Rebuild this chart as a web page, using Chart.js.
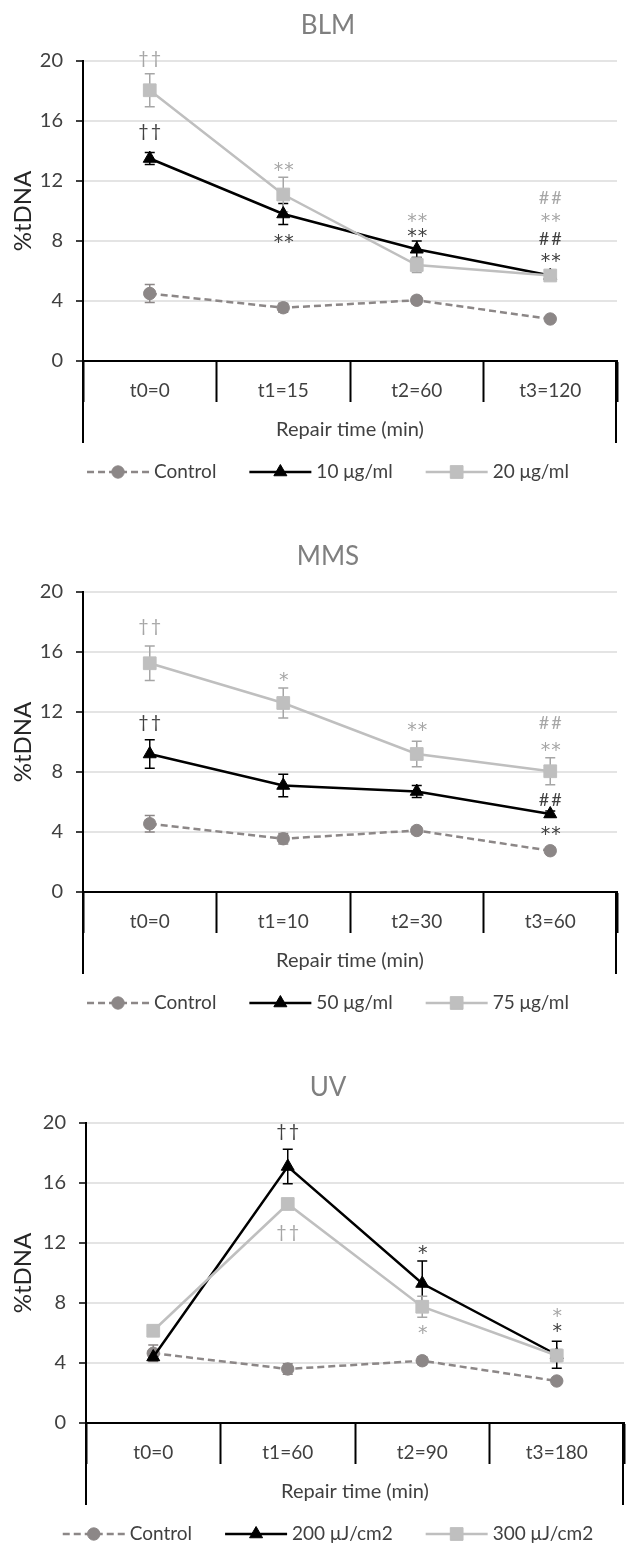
<!DOCTYPE html>
<html>
<head>
<meta charset="utf-8">
<title>%tDNA repair kinetics</title>
<script src="https://cdn.jsdelivr.net/npm/chart.js@4.4.1/dist/chart.umd.min.js"></script>
<style>
  html, body { margin: 0; padding: 0; background: #fff; }
  body { position: relative; width: 627px; height: 1544px; overflow: hidden; }
  .panel { position: absolute; left: 0; width: 627px; overflow: hidden; }
  .panel canvas { display: block; }
</style>
</head>
<body>
<div class="panel" style="top: 0; height: 531px"><canvas id="blm" width="627" height="531"></canvas></div>
<div class="panel" style="top: 531px; height: 531px"><canvas id="mms" width="627" height="531"></canvas></div>
<div class="panel" style="top: 1062px; height: 482px"><canvas id="uv" width="634" height="482"></canvas></div>
<script>
// values (mean, +/- error bar half-length)
const blmLabels = ["t0=0", "t1=15", "t2=60", "t3=120"];
const blmControl = [4.5, 3.55, 4.05, 2.8];
const blmControlErr = [0.6, 0.3, 0.25, 0.15];
const blmLow = [13.5, 9.8, 7.45, 5.7];
const blmLowErr = [0.4, 0.7, 0.55, 0.15];
const blmHigh = [18.05, 11.1, 6.4, 5.7];
const blmHighErr = [1.1, 1.15, 0.5, 0.2];
const blmMarks = [
  [0, 20.15, "††", "light"], [0, 15.3, "††", "dark"],
  [1, 13.0, "**", "light"], [1, 8.2, "**", "dark"],
  [2, 9.6, "**", "light"], [2, 8.55, "**", "dark"],
  [3, 10.9, "##", "light"], [3, 9.55, "**", "light"], [3, 8.2, "##", "dark"], [3, 6.9, "**", "dark"],
];

const mmsLabels = ["t0=0", "t1=10", "t2=30", "t3=60"];
const mmsControl = [4.55, 3.55, 4.1, 2.75];
const mmsControlErr = [0.55, 0.35, 0.25, 0.2];
const mmsLow = [9.2, 7.1, 6.7, 5.2];
const mmsLowErr = [0.95, 0.75, 0.4, 0.2];
const mmsHigh = [15.25, 12.6, 9.2, 8.05];
const mmsHighErr = [1.15, 1.0, 0.85, 0.9];
const mmsMarks = [
  [0, 17.7, "††", "light"], [0, 11.3, "††", "dark"],
  [1, 14.4, "*", "light"],
  [2, 11.05, "**", "light"],
  [3, 11.3, "##", "light"], [3, 9.7, "**", "light"], [3, 6.2, "##", "dark"], [3, 4.1, "**", "dark"],
];

const uvLabels = ["t0=0", "t1=60", "t2=90", "t3=180"];
const uvControl = [4.65, 3.6, 4.15, 2.8];
const uvControlErr = [0.55, 0.35, 0.25, 0.2];
const uvLow = [4.4, 17.1, 9.3, 4.55];
const uvLowErr = [0.2, 1.15, 1.5, 0.9];
const uvHigh = [6.15, 14.6, 7.75, 4.5];
const uvHighErr = [0.2, 0.35, 0.7, 0.4];
const uvMarks = [
  [1, 19.4, "††", "dark"], [1, 12.7, "††", "light"],
  [2, 11.6, "*", "dark"], [2, 6.25, "*", "light"],
  [3, 7.4, "*", "light"], [3, 6.4, "*", "dark"],
];

// look
const FONT = "Lato, 'Open Sans', sans-serif";
const STAR_FONT = "'DejaVu Sans', sans-serif";
const TEXT_COLOR = "#404040";
const MARK_COLORS = { light: "#a6a6a6", dark: "#404040" };
const CONTROL_LOOK = {
  borderColor: "#8c8787", backgroundColor: "#8c8787",
  pointBackgroundColor: "#8c8787", pointBorderColor: "#8c8787",
  borderDash: [7, 4], borderWidth: 2.5, pointStyle: "circle", pointRadius: 6.2,
  errorColor: "#8c8787", order: 2,
};
const LOW_LOOK = {
  borderColor: "#000", backgroundColor: "#000",
  pointBackgroundColor: "#000", pointBorderColor: "#000",
  borderWidth: 2.5, pointStyle: "triangle", pointRadius: 7.5,
  errorColor: "#000", order: 1,
};
const HIGH_LOOK = {
  borderColor: "#bfbfbf", backgroundColor: "#bfbfbf",
  pointBackgroundColor: "#bfbfbf", pointBorderColor: "#bfbfbf",
  borderWidth: 2.5, pointStyle: "rect", pointRadius: 9,
  errorColor: "#a6a6a6", order: 0,
};

const PLOT_TOP = 61;
const PLOT_BOTTOM = 361;
const AXIS_BAND = 82;      // category table + axis title under the plot
const LEGEND_OFFSET = 111; // plot bottom -> legend centre line
const TITLE_OFFSET = 35;   // plot top -> title centre line
const FIG_CENTER = 328;

Chart.defaults.font.family = FONT;
Chart.defaults.color = TEXT_COLOR;

window.panelFactory = {
  series(label, data, errors, look) {
    return { label, data, errors, tension: 0, pointBorderWidth: 1, ...look };
  },

  decor(title, marks) {
    return {
      id: "decor",
      beforeDatasetsDraw(chart) {
        const { ctx } = chart;
        const y = chart.scales.y;
        chart.data.datasets.forEach((ds, i) => {
          const meta = chart.getDatasetMeta(i);
          ctx.save();
          ctx.strokeStyle = ds.errorColor;
          ctx.lineWidth = 1.5;
          ds.errors.forEach((err, j) => {
            const px = meta.data[j].x;
            const top = y.getPixelForValue(ds.data[j] + err);
            const bot = y.getPixelForValue(ds.data[j] - err);
            ctx.beginPath();
            ctx.moveTo(px, top); ctx.lineTo(px, bot);
            ctx.moveTo(px - 5, top); ctx.lineTo(px + 5, top);
            ctx.moveTo(px - 5, bot); ctx.lineTo(px + 5, bot);
            ctx.stroke();
          });
          ctx.restore();
        });
      },

      afterDatasetsDraw(chart) {
        const { ctx } = chart;
        ctx.save();
        ctx.textAlign = "center";
        ctx.textBaseline = "alphabetic";
        marks.forEach(([idx, value, text, tone]) => {
          const star = text.includes("*");
          ctx.font = star ? `19px ${STAR_FONT}` : `18px ${FONT}`;
          ctx.letterSpacing = star ? "1px" : "2px";
          const px = chart.scales.x.getPixelForValue(idx);
          const py = chart.scales.y.getPixelForValue(value);
          const m = ctx.measureText(text);
          ctx.fillStyle = MARK_COLORS[tone];
          ctx.fillText(text, px + 1, py + (m.actualBoundingBoxAscent - m.actualBoundingBoxDescent) / 2);
        });
        ctx.restore();
      },

      afterDraw(chart) {
        const { ctx } = chart;
        const { left, right, top, bottom } = chart.chartArea;
        ctx.save();

        // outer frame of the category table
        ctx.strokeStyle = "#000";
        ctx.lineWidth = 2;
        ctx.beginPath();
        ctx.moveTo(left, bottom); ctx.lineTo(left, bottom + AXIS_BAND);
        ctx.moveTo(right - 1, bottom); ctx.lineTo(right - 1, bottom + AXIS_BAND);
        ctx.stroke();

        // title
        ctx.font = `26px ${FONT}`;
        ctx.fillStyle = "#7f7f7f";
        ctx.textAlign = "center";
        ctx.textBaseline = "middle";
        ctx.fillText(title, FIG_CENTER, top - TITLE_OFFSET);

        // legend: line segment with marker, then label
        const LINE_LEN = 62, TEXT_GAP = 5, ITEM_GAP = 33;
        ctx.font = `19px ${FONT}`;
        const items = chart.data.datasets.map((ds) => ({ ds, w: ctx.measureText(ds.label).width }));
        const total = items.reduce((s, it) => s + LINE_LEN + TEXT_GAP + it.w, 0) + ITEM_GAP * (items.length - 1);
        let x = FIG_CENTER - total / 2;
        const ly = bottom + LEGEND_OFFSET;
        items.forEach(({ ds, w }) => {
          ctx.strokeStyle = ds.borderColor;
          ctx.lineWidth = ds.borderWidth;
          ctx.setLineDash(ds.borderDash || []);
          ctx.beginPath();
          ctx.moveTo(x, ly); ctx.lineTo(x + LINE_LEN, ly);
          ctx.stroke();
          ctx.setLineDash([]);
          ctx.fillStyle = ds.pointBackgroundColor;
          ctx.strokeStyle = ds.pointBorderColor;
          ctx.lineWidth = 1;
          Chart.helpers.drawPoint(ctx, { pointStyle: ds.pointStyle, radius: ds.pointRadius, rotation: 0, borderWidth: 1 }, x + LINE_LEN / 2, ly);
          ctx.fillStyle = TEXT_COLOR;
          ctx.textAlign = "left";
          ctx.fillText(ds.label, x + LINE_LEN + TEXT_GAP, ly);
          x += LINE_LEN + TEXT_GAP + w + ITEM_GAP;
        });
        ctx.restore();
      },
    };
  },

  lineChart(canvasId, cfg) {
    const canvas = document.getElementById(canvasId);
    const datasets = [
      this.series("Control", cfg.control, cfg.controlErr, CONTROL_LOOK),
      this.series(cfg.doses[0], cfg.low, cfg.lowErr, LOW_LOOK),
      this.series(cfg.doses[1], cfg.high, cfg.highErr, HIGH_LOOK),
    ];
    return new Chart(canvas, {
      type: "line",
      data: { labels: cfg.labels, datasets },
      options: {
        responsive: false,
        animation: false,
        events: [],
        layout: { padding: { top: PLOT_TOP, left: 0, right: 0, bottom: canvas.height - PLOT_BOTTOM - AXIS_BAND } },
        plugins: { legend: { display: false }, tooltip: { enabled: false }, title: { display: false } },
        scales: {
          x: {
            type: "category",
            offset: true,
            grid: { display: true, drawOnChartArea: false, drawTicks: true, tickLength: 41, tickColor: "#000", tickWidth: 2, offset: true },
            border: { display: true, color: "#000", width: 2 },
            ticks: { padding: -23, color: TEXT_COLOR, font: { size: 19 }, maxRotation: 0, autoSkip: false },
            title: { display: true, text: "Repair time (min)", color: TEXT_COLOR, font: { size: 20 }, padding: { top: 0, bottom: 1 } },
            afterFit(scale) { scale.height = AXIS_BAND; },
          },
          y: {
            min: 0,
            max: 20,
            ticks: { stepSize: 4, padding: 13, color: TEXT_COLOR, font: { size: 20 } },
            grid: { color: "#e4e4e4", lineWidth: 2, tickLength: 7, tickColor: "#000", tickWidth: 1.5 },
            border: { color: "#000", width: 2 },
            title: { display: true, text: "%tDNA", color: "#262626", font: { size: 24 }, padding: { top: 9, bottom: 0 } },
            afterFit(scale) { scale.width = cfg.axisLeft; },
          },
        },
      },
      plugins: [this.decor(cfg.title, cfg.marks)],
    });
  },
};

panelFactory.lineChart("blm", {
  title: "BLM", labels: blmLabels, doses: ["10 μg/ml", "20 μg/ml"], axisLeft: 83,
  control: blmControl, controlErr: blmControlErr, low: blmLow, lowErr: blmLowErr,
  high: blmHigh, highErr: blmHighErr, marks: blmMarks,
});
panelFactory.lineChart("mms", {
  title: "MMS", labels: mmsLabels, doses: ["50 μg/ml", "75 μg/ml"], axisLeft: 83,
  control: mmsControl, controlErr: mmsControlErr, low: mmsLow, lowErr: mmsLowErr,
  high: mmsHigh, highErr: mmsHighErr, marks: mmsMarks,
});
panelFactory.lineChart("uv", {
  title: "UV", labels: uvLabels, doses: ["200 μJ/cm2", "300 μJ/cm2"], axisLeft: 86,
  control: uvControl, controlErr: uvControlErr, low: uvLow, lowErr: uvLowErr,
  high: uvHigh, highErr: uvHighErr, marks: uvMarks,
});
</script>
</body>
</html>
